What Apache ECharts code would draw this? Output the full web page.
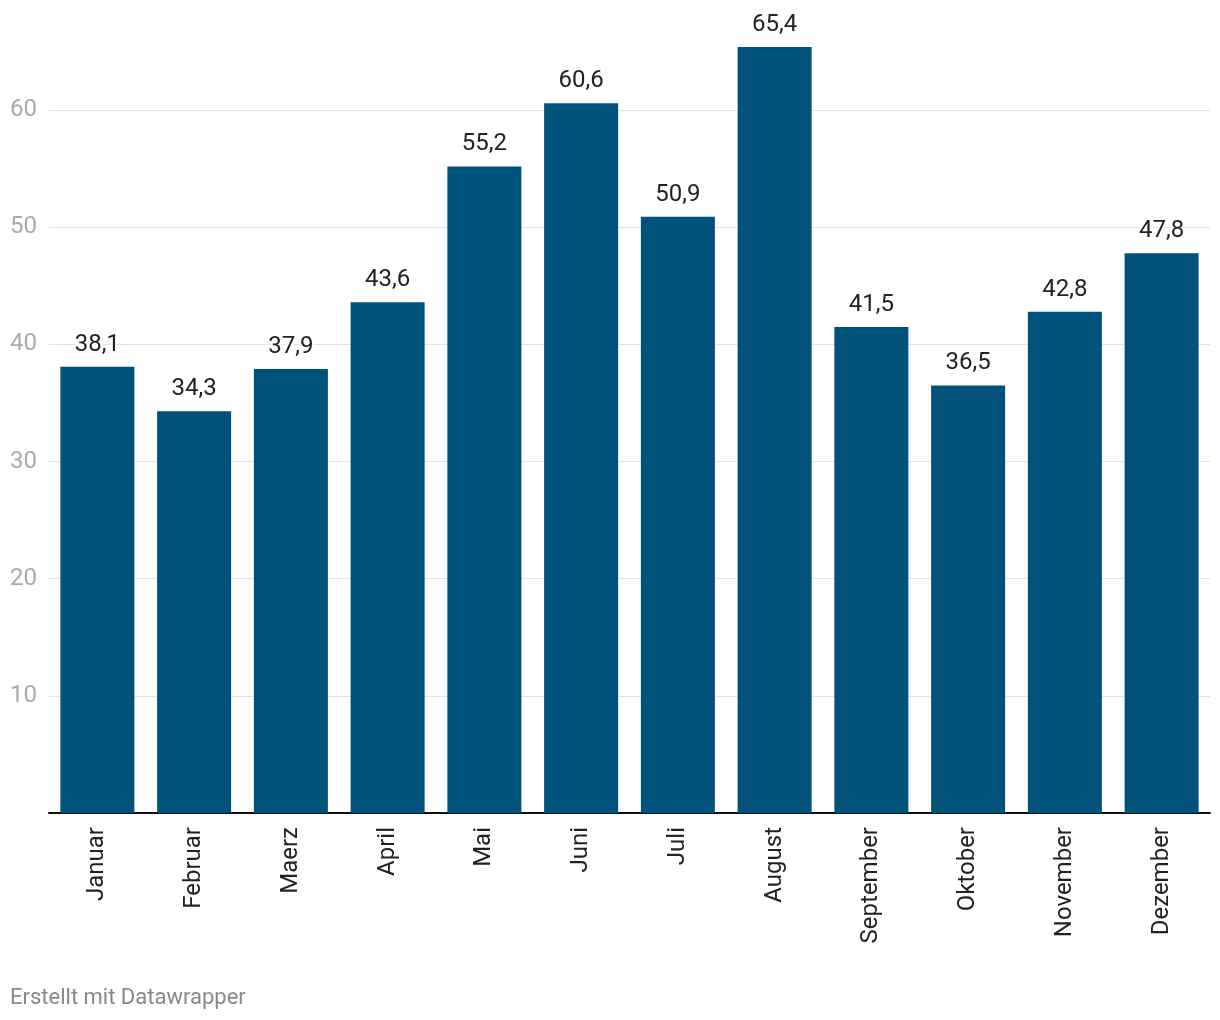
<!DOCTYPE html>
<html><head><meta charset="utf-8">
<script src="https://cdn.jsdelivr.net/npm/echarts@6/dist/echarts.min.js"></script>
<style>html,body{margin:0;padding:0;background:#fff}#c{width:1220px;height:1020px}</style>
</head><body><div id="c"></div>
<script>
const categories = ['Januar','Februar','Maerz','April','Mai','Juni','Juli','August','September','Oktober','November','Dezember'];
const values = [38.1, 34.3, 37.9, 43.6, 55.2, 60.6, 50.9, 65.4, 41.5, 36.5, 42.8, 47.8];
const yTicks = [10, 20, 30, 40, 50, 60];
const footer = 'Erstellt mit Datawrapper';

const chart = echarts.init(document.getElementById('c'));
const fmt = v => String(v.toFixed(1)).replace('.', ',');
chart.setOption({
  animation: false,
  textStyle: { fontFamily: 'Roboto' },
  graphic: [{ type: 'text', left: 10, top: 987, style: { text: footer, fill: '#888', fontSize: 22, fontFamily: 'Roboto' } }],
  grid: { left: 49, right: 10, top: 47, bottom: 207, containLabel: false },
  xAxis: {
    type: 'category', data: categories,
    axisLine: { lineStyle: { color: '#111', width: 2 } },
    axisTick: { show: false },
    axisLabel: { rotate: 90, color: '#222', fontSize: 24, margin: 14, fontFamily: 'Roboto' }
  },
  yAxis: {
    type: 'value', min: 0, max: 65.4, interval: 10,
    axisLine: { show: false }, axisTick: { show: false },
    splitLine: { showMaxLine: false, showMinLine: false, lineStyle: { color: '#e3e3e3', width: 1 } },
    axisLabel: {
      color: '#aaa', fontSize: 24, margin: 12, fontFamily: 'Roboto',
      formatter: v => yTicks.includes(v) ? String(v) : ''
    }
  },
  series: [{
    type: 'bar', data: values, barCategoryGap: '23.5%',
    itemStyle: { color: '#01527a' },
    label: {
      show: true, position: 'top', distance: 10, color: '#222', fontSize: 24,
      fontFamily: 'Roboto', formatter: p => fmt(p.value),
      textBorderColor: '#fff', textBorderWidth: 4
    }
  }]
});
</script></body></html>
